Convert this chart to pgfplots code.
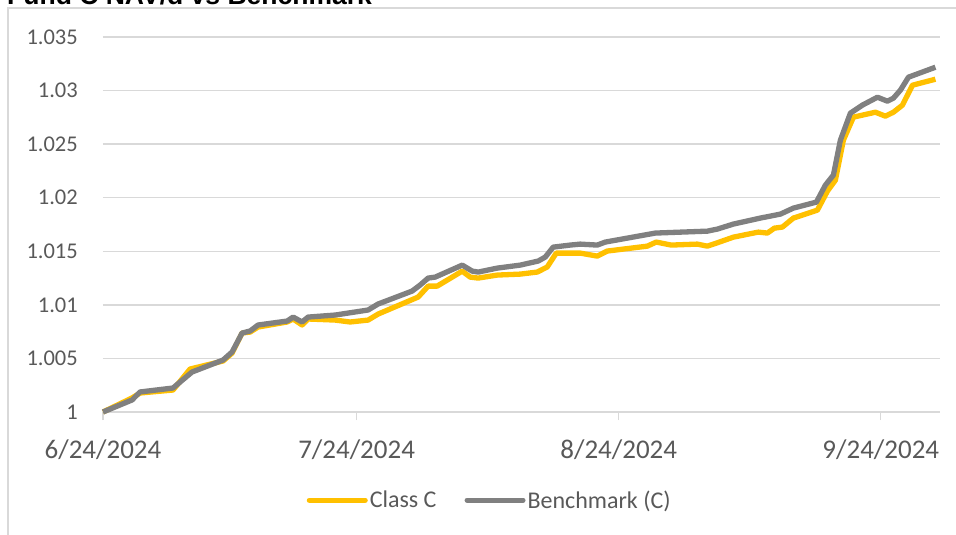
\documentclass[border=0pt]{standalone}
\usepackage{pgfplots}
\pgfplotsset{compat=1.18}
\usepackage{fontspec}
\setmainfont{Carlito}
\newfontfamily\titlefont{Liberation Sans}
\definecolor{cgold}{HTML}{FFC000}
\definecolor{cgray}{HTML}{808080}
\definecolor{cgrid}{HTML}{D9D9D9}
\definecolor{ctext}{HTML}{595959}
\begin{document}
\begin{tikzpicture}
\path[use as bounding box] (0pt,0pt) rectangle (956pt,-535pt);
\draw[cgrid, line width=1.2pt] (8pt,-545pt) -- (8pt,-8pt) -- (966pt,-8pt);
\node[anchor=base west, inner sep=0pt, font=\titlefont\bfseries\fontsize{26.5}{31}\selectfont] at (7pt,-5pt) {Fund C NAV/d vs Benchmark};
\begin{axis}[
  at={(103pt,-412pt)}, anchor=south west,
  scale only axis, width=837pt, height=375pt,
  xmin=0, xmax=99, ymin=1, ymax=1.035,
  xtick={0,30,61,92},
  xticklabels={6/24/2024,7/24/2024,8/24/2024,9/24/2024},
  ytick={1,1.005,1.01,1.015,1.02,1.025,1.03,1.035},
  /pgf/number format/fixed,
  /pgf/number format/precision=3,
  /pgf/number format/assume math mode=true,
  yticklabel style={anchor=east, inner sep=0pt, xshift=-17pt, font=\fontsize{22.5}{27}\selectfont, text=ctext},
  xticklabel style={anchor=north, inner sep=0pt, yshift=-20pt, font=\fontsize{27}{31}\selectfont, text=ctext},
  ymajorgrids, major grid style={cgrid, line width=1.3pt},
  axis x line*=bottom, axis y line*=left,
  x axis line style={draw=cgrid, line width=1.3pt, -},
  y axis line style={draw=none},
  xtick style={draw=cgrid, line width=1.3pt},
  ytick style={draw=none},
  major tick length=8pt,
  tick align=outside,
  legend style={at={(0.462,-0.235)}, anchor=center, draw=none, fill=none,
    legend columns=2, font=\fontsize{24}{28}\selectfont, text=ctext,
    /tikz/every even column/.append style={column sep=26pt}},
  legend image code/.code={\draw[#1, line width=5pt, line cap=round] (0pt,0pt) -- (56pt,0pt);},
  legend cell align=left,
  every axis plot/.append style={line width=5.3pt, line join=round},
  clip=false,
]
\addplot[cgold] coordinates {
(0,1.00000) (3.43,1.00131) (4.38,1.00177) (8.28,1.00205) (10.30,1.00401)
(14.20,1.00476) (15.27,1.00550) (16.45,1.00737) (17.40,1.00746) (18.34,1.00793)
(21.78,1.00840) (22.49,1.00868) (23.55,1.00812) (24.26,1.00868) (27.46,1.00858)
(29.23,1.00840) (31.36,1.00858) (32.54,1.00914) (37.28,1.01073) (38.46,1.01175)
(39.53,1.01175) (42.49,1.01315) (43.43,1.01259) (44.38,1.01250) (46.63,1.01278)
(49.35,1.01287) (51.36,1.01306) (52.54,1.01353) (53.61,1.01483) (56.45,1.01483)
(58.46,1.01455) (59.64,1.01502) (64.38,1.01548) (65.44,1.01586) (67.22,1.01558)
(70.30,1.01567) (71.48,1.01548) (72.54,1.01576) (74.56,1.01632) (77.51,1.01679)
(78.58,1.01670) (79.41,1.01716) (80.36,1.01726) (81.66,1.01810) (84.50,1.01884)
(85.68,1.02061) (86.63,1.02164) (87.57,1.02537) (88.76,1.02752) (91.36,1.02798)
(92.54,1.02761) (93.49,1.02798) (94.56,1.02864) (95.74,1.03050) (98.46,1.03106)
};
\addlegendentry{Class C}
\addplot[cgray] coordinates {
(0,1.00000) (3.43,1.00112) (4.38,1.00187) (8.28,1.00224) (10.53,1.00373)
(14.20,1.00485) (15.27,1.00560) (16.45,1.00737) (17.40,1.00756) (18.34,1.00812)
(21.78,1.00849) (22.49,1.00886) (23.55,1.00840) (24.26,1.00886) (27.46,1.00905)
(31.36,1.00952) (32.54,1.01008) (36.57,1.01129) (37.51,1.01185) (38.46,1.01250)
(39.29,1.01259) (42.49,1.01371) (43.67,1.01315) (44.38,1.01306) (46.63,1.01343)
(49.35,1.01371) (51.48,1.01409) (52.31,1.01446) (53.25,1.01539) (55.27,1.01558)
(56.45,1.01567) (58.46,1.01558) (59.41,1.01586) (65.33,1.01670) (71.48,1.01688)
(72.66,1.01707) (74.56,1.01754) (77.75,1.01810) (80.12,1.01847) (81.66,1.01903)
(84.38,1.01959) (85.44,1.02117) (86.39,1.02211) (87.22,1.02537) (88.40,1.02789)
(89.82,1.02864) (91.60,1.02938) (92.78,1.02901) (93.49,1.02929) (94.32,1.03004)
(95.27,1.03125) (98.46,1.03218)
};
\addlegendentry{Benchmark (C)}
\end{axis}
\end{tikzpicture}
\end{document}
